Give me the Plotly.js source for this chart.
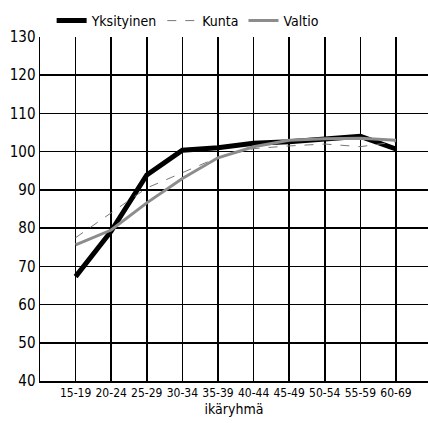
<!DOCTYPE html>
<html>
<head>
<meta charset="utf-8">
<script src="https://cdn.plot.ly/plotly-3.0.1.min.js"></script>
<style>html,body{margin:0;padding:0;background:#fff;}#chart{width:428px;height:423px;}</style>
</head>
<body>
<div id="chart"></div>
<script>
const categories = ["15-19","20-24","25-29","30-34","35-39","40-44","45-49","50-54","55-59","60-69"];
const yksityinen = [67.3, 79.2, 93.9, 100.4, 101.0, 102.2, 102.6, 103.4, 104.0, 100.7];
const kunta = [77.5, 84.0, 90.5, 94.5, 98.5, 100.8, 101.5, 102.0, 101.3, 102.6];
const valtio = [75.6, 79.5, 86.6, 93.0, 98.4, 101.3, 103.0, 103.4, 103.5, 103.0];
const yTicks = [40,50,60,70,80,90,100,110,120,130];
const xTitle = "ikäryhmä";

const xpos = categories.map((c,i)=>i+1);
const font = "DejaVu Sans Condensed, Open Sans, Arial, sans-serif";

const traces = [
  {x:xpos, y:yksityinen, name:"Yksityinen", mode:"lines", line:{color:"#000", width:5}},
  {x:xpos, y:kunta, name:"Kunta", mode:"lines", line:{color:"#777", width:1, dash:"dash"}},
  {x:xpos, y:valtio, name:"Valtio", mode:"lines", line:{color:"#8c8c8c", width:3}}
];

const layout = {
  width:428, height:423,
  margin:{l:40, r:0, t:37, b:42, autoexpand:false},
  paper_bgcolor:"#fff", plot_bgcolor:"#fff",
  font:{family:font, color:"#000", size:14},
  showlegend:true,
  legend:{orientation:"h", x:0.03, y:1.0, xanchor:"left", yanchor:"bottom",
          font:{size:14, family:font}, itemwidth:30, tracegroupgap:0, bgcolor:"rgba(0,0,0,0)"},
  xaxis:{
    range:[0, 10.9], tickvals:xpos, ticktext:categories,
    showgrid:true, gridcolor:"#000", gridwidth:1.5,
    showline:true, linecolor:"#000", linewidth:1.5,
    ticks:"", zeroline:false, tickangle:0, ticklabelstandoff:0,
    tickfont:{size:12, family:font},
    title:{text:xTitle, font:{size:14, family:font}, standoff:5}
  },
  yaxis:{
    range:[40,130], tickvals:yTicks,
    showgrid:true, gridcolor:"#000", gridwidth:1.5,
    showline:true, linecolor:"#000", linewidth:1.5,
    ticks:"", zeroline:false,
    tickfont:{size:15, family:font}
  }
};

Plotly.newPlot("chart", traces, layout, {displayModeBar:false, staticPlot:true});
</script>
</body>
</html>
